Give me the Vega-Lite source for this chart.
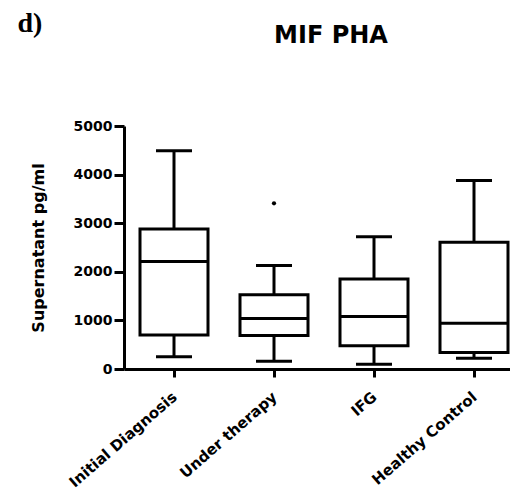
{
  "$schema": "https://vega.github.io/schema/vega-lite/v6.json",
  "autosize": "none",
  "width": 400,
  "height": 243,
  "padding": {"left": 124, "top": 126, "right": -14, "bottom": 129},
  "background": "white",
  "config": {"view": {"stroke": null}, "font": "DejaVu Sans"},
  "title": {"text": "MIF PHA", "anchor": "middle", "frame": "group", "dx": 7, "offset": 0, "dy": 58, "baseline": "alphabetic", "fontSize": 24, "font": "DejaVu Sans", "fontWeight": "bold", "color": "black"},
  "datasets": {
    "boxes": [
      {"group": "Initial Diagnosis", "min": 250, "q1": 700, "median": 2210, "q3": 2880, "max": 4490},
      {"group": "Under therapy", "min": 160, "q1": 690, "median": 1040, "q3": 1530, "max": 2130},
      {"group": "IFG", "min": 100, "q1": 480, "median": 1080, "q3": 1850, "max": 2720},
      {"group": "Healthy Control", "min": 220, "q1": 340, "median": 940, "q3": 2610, "max": 3880}
    ],
    "outliers": [
      {"group": "Under therapy", "value": 3410}
    ]
  },
  "resolve": {"axis": {"x": "independent"}},
  "layer": [
    {
      "data": {"name": "boxes"},
      "mark": {"type": "rule", "color": "black", "strokeWidth": 3},
      "encoding": {
        "x": {"field": "group", "type": "nominal", "sort": ["Initial Diagnosis", "Under therapy", "IFG", "Healthy Control"], "scale": {"paddingInner": 0, "paddingOuter": 0}, "axis": null},
        "y": {"field": "min", "type": "quantitative", "scale": {"domain": [0, 5000], "nice": false}, "axis": {"title": "Supernatant pg/ml", "values": [0, 1000, 2000, 3000, 4000, 5000], "format": "d", "grid": false, "domainColor": "black", "domainWidth": 3, "tickColor": "black", "tickWidth": 3, "tickSize": 10, "labelFont": "DejaVu Sans", "labelFontWeight": "bold", "labelFontSize": 14, "labelColor": "black", "labelPadding": 2, "titleFont": "DejaVu Sans", "titleFontWeight": "bold", "titleFontSize": 16, "titleColor": "black", "titlePadding": 27}},
        "y2": {"field": "q1"}
      }
    },
    {
      "data": {"name": "boxes"},
      "mark": {"type": "rule", "color": "black", "strokeWidth": 3},
      "encoding": {
        "x": {"field": "group", "type": "nominal", "sort": ["Initial Diagnosis", "Under therapy", "IFG", "Healthy Control"], "axis": null},
        "y": {"field": "q3", "type": "quantitative"},
        "y2": {"field": "max"}
      }
    },
    {
      "data": {"name": "boxes"},
      "mark": {"type": "tick", "color": "black", "size": 36, "thickness": 3, "opacity": 1},
      "encoding": {
        "x": {"field": "group", "type": "nominal", "sort": ["Initial Diagnosis", "Under therapy", "IFG", "Healthy Control"], "axis": null},
        "y": {"field": "min", "type": "quantitative"}
      }
    },
    {
      "data": {"name": "boxes"},
      "mark": {"type": "tick", "color": "black", "size": 36, "thickness": 3, "opacity": 1},
      "encoding": {
        "x": {"field": "group", "type": "nominal", "sort": ["Initial Diagnosis", "Under therapy", "IFG", "Healthy Control"], "axis": null},
        "y": {"field": "max", "type": "quantitative"}
      }
    },
    {
      "data": {"name": "boxes"},
      "mark": {"type": "bar", "size": 68, "fill": "white", "stroke": "black", "strokeWidth": 3},
      "encoding": {
        "x": {"field": "group", "type": "nominal", "sort": ["Initial Diagnosis", "Under therapy", "IFG", "Healthy Control"], "axis": {"title": null, "domainColor": "black", "domainWidth": 3, "tickColor": "black", "tickWidth": 3, "tickSize": 8, "labelAngle": -41, "labelFont": "DejaVu Sans", "labelFontWeight": "bold", "labelFontSize": 15, "labelColor": "black", "labelPadding": 12, "labelOffset": -4}},
        "y": {"field": "q1", "type": "quantitative"},
        "y2": {"field": "q3"}
      }
    },
    {
      "data": {"name": "boxes"},
      "mark": {"type": "tick", "color": "black", "size": 68, "thickness": 3, "opacity": 1},
      "encoding": {
        "x": {"field": "group", "type": "nominal", "sort": ["Initial Diagnosis", "Under therapy", "IFG", "Healthy Control"], "axis": {"orient": "top", "domain": false, "ticks": false, "labels": false, "title": "d)", "titleX": -107, "titleY": -95, "titleAlign": "left", "titleBaseline": "alphabetic", "titleAngle": 0, "titleFont": "Liberation Serif", "titleFontSize": 28, "titleFontWeight": "bold", "titleColor": "black"}},
        "y": {"field": "median", "type": "quantitative"}
      }
    },
    {
      "data": {"name": "outliers"},
      "mark": {"type": "point", "filled": true, "color": "black", "size": 18, "opacity": 1},
      "encoding": {
        "x": {"field": "group", "type": "nominal", "sort": ["Initial Diagnosis", "Under therapy", "IFG", "Healthy Control"], "axis": null},
        "y": {"field": "value", "type": "quantitative"}
      }
    }
  ]
}
